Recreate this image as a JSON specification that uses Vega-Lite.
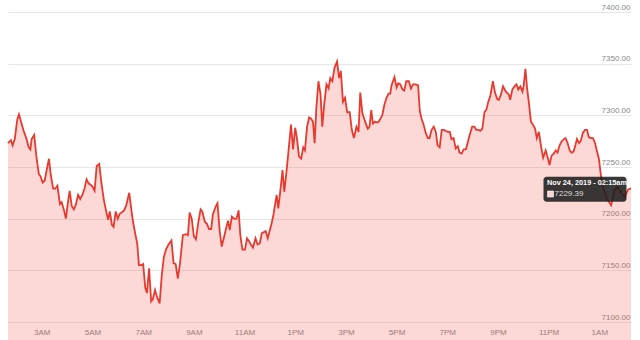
{
  "$schema": "https://vega.github.io/schema/vega-lite/v6.json",
  "width": 623,
  "height": 310,
  "autosize": {"type": "none"},
  "padding": {"left": 8, "top": 12, "right": 9, "bottom": 18},
  "background": "white",
  "config": {"view": {"stroke": null}, "font": "Liberation Sans Narrow, Liberation Sans, Arial, sans-serif"},
  "datasets": {
    "btc": [
      {"t":"2019-11-23T01:40","v":7273},{"t":"2019-11-23T01:47","v":7276},{"t":"2019-11-23T01:51","v":7271},{"t":"2019-11-23T01:56","v":7277},
      {"t":"2019-11-23T02:02","v":7296},{"t":"2019-11-23T02:06","v":7301},{"t":"2019-11-23T02:12","v":7292},{"t":"2019-11-23T02:17","v":7285},
      {"t":"2019-11-23T02:24","v":7277},{"t":"2019-11-23T02:29","v":7269},{"t":"2019-11-23T02:33","v":7267},{"t":"2019-11-23T02:36","v":7277},
      {"t":"2019-11-23T02:42","v":7281},{"t":"2019-11-23T02:47","v":7261},{"t":"2019-11-23T02:53","v":7243},{"t":"2019-11-23T02:57","v":7241},
      {"t":"2019-11-23T03:02","v":7235},{"t":"2019-11-23T03:07","v":7237},{"t":"2019-11-23T03:11","v":7246},{"t":"2019-11-23T03:17","v":7258},
      {"t":"2019-11-23T03:21","v":7243},{"t":"2019-11-23T03:27","v":7229},{"t":"2019-11-23T03:32","v":7229},{"t":"2019-11-23T03:37","v":7232},
      {"t":"2019-11-23T03:43","v":7214},{"t":"2019-11-23T03:47","v":7216},{"t":"2019-11-23T03:52","v":7209},{"t":"2019-11-23T03:57","v":7200},
      {"t":"2019-11-23T04:02","v":7216},{"t":"2019-11-23T04:06","v":7227},{"t":"2019-11-23T04:11","v":7212},{"t":"2019-11-23T04:16","v":7209},
      {"t":"2019-11-23T04:21","v":7214},{"t":"2019-11-23T04:26","v":7223},{"t":"2019-11-23T04:31","v":7219},{"t":"2019-11-23T04:36","v":7223},
      {"t":"2019-11-23T04:41","v":7229},{"t":"2019-11-23T04:46","v":7238},{"t":"2019-11-23T04:51","v":7234},{"t":"2019-11-23T04:55","v":7233},
      {"t":"2019-11-23T05:00","v":7231},{"t":"2019-11-23T05:05","v":7227},{"t":"2019-11-23T05:10","v":7251},{"t":"2019-11-23T05:16","v":7253},
      {"t":"2019-11-23T05:21","v":7235},{"t":"2019-11-23T05:27","v":7218},{"t":"2019-11-23T05:32","v":7208},{"t":"2019-11-23T05:37","v":7199},
      {"t":"2019-11-23T05:41","v":7207},{"t":"2019-11-23T05:46","v":7194},{"t":"2019-11-23T05:50","v":7192},{"t":"2019-11-23T05:55","v":7207},
      {"t":"2019-11-23T06:00","v":7200},{"t":"2019-11-23T06:05","v":7205},{"t":"2019-11-23T06:09","v":7206},{"t":"2019-11-23T06:15","v":7208},
      {"t":"2019-11-23T06:20","v":7213},{"t":"2019-11-23T06:27","v":7225},{"t":"2019-11-23T06:31","v":7212},{"t":"2019-11-23T06:36","v":7197},
      {"t":"2019-11-23T06:41","v":7186},{"t":"2019-11-23T06:46","v":7176},{"t":"2019-11-23T06:50","v":7155},{"t":"2019-11-23T06:55","v":7155},
      {"t":"2019-11-23T07:00","v":7156},{"t":"2019-11-23T07:05","v":7133},{"t":"2019-11-23T07:09","v":7128},{"t":"2019-11-23T07:14","v":7152},
      {"t":"2019-11-23T07:19","v":7120},{"t":"2019-11-23T07:23","v":7122},{"t":"2019-11-23T07:28","v":7131},{"t":"2019-11-23T07:33","v":7124},
      {"t":"2019-11-23T07:39","v":7118},{"t":"2019-11-23T07:44","v":7145},{"t":"2019-11-23T07:49","v":7163},{"t":"2019-11-23T07:54","v":7170},
      {"t":"2019-11-23T08:00","v":7175},{"t":"2019-11-23T08:07","v":7179},{"t":"2019-11-23T08:12","v":7157},{"t":"2019-11-23T08:17","v":7156},
      {"t":"2019-11-23T08:22","v":7142},{"t":"2019-11-23T08:27","v":7156},{"t":"2019-11-23T08:34","v":7184},{"t":"2019-11-23T08:41","v":7185},
      {"t":"2019-11-23T08:46","v":7184},{"t":"2019-11-23T08:50","v":7206},{"t":"2019-11-23T08:55","v":7200},{"t":"2019-11-23T09:00","v":7183},
      {"t":"2019-11-23T09:05","v":7180},{"t":"2019-11-23T09:10","v":7195},{"t":"2019-11-23T09:16","v":7209},{"t":"2019-11-23T09:20","v":7207},
      {"t":"2019-11-23T09:26","v":7197},{"t":"2019-11-23T09:31","v":7195},{"t":"2019-11-23T09:36","v":7190},{"t":"2019-11-23T09:41","v":7190},
      {"t":"2019-11-23T09:45","v":7204},{"t":"2019-11-23T09:52","v":7212},{"t":"2019-11-23T09:56","v":7215},{"t":"2019-11-23T10:01","v":7189},
      {"t":"2019-11-23T10:06","v":7173},{"t":"2019-11-23T10:12","v":7183},{"t":"2019-11-23T10:17","v":7192},{"t":"2019-11-23T10:21","v":7198},
      {"t":"2019-11-23T10:25","v":7189},{"t":"2019-11-23T10:30","v":7202},{"t":"2019-11-23T10:35","v":7200},{"t":"2019-11-23T10:41","v":7200},
      {"t":"2019-11-23T10:46","v":7208},{"t":"2019-11-23T10:50","v":7184},{"t":"2019-11-23T10:55","v":7170},{"t":"2019-11-23T11:01","v":7170},
      {"t":"2019-11-23T11:06","v":7181},{"t":"2019-11-23T11:11","v":7178},{"t":"2019-11-23T11:15","v":7175},{"t":"2019-11-23T11:20","v":7172},
      {"t":"2019-11-23T11:26","v":7181},{"t":"2019-11-23T11:31","v":7175},{"t":"2019-11-23T11:36","v":7176},{"t":"2019-11-23T11:41","v":7186},
      {"t":"2019-11-23T11:46","v":7187},{"t":"2019-11-23T11:50","v":7188},{"t":"2019-11-23T11:55","v":7181},{"t":"2019-11-23T12:00","v":7189},
      {"t":"2019-11-23T12:04","v":7195},{"t":"2019-11-23T12:09","v":7205},{"t":"2019-11-23T12:16","v":7223},{"t":"2019-11-23T12:20","v":7210},
      {"t":"2019-11-23T12:25","v":7228},{"t":"2019-11-23T12:30","v":7247},{"t":"2019-11-23T12:34","v":7226},{"t":"2019-11-23T12:39","v":7244},
      {"t":"2019-11-23T12:44","v":7265},{"t":"2019-11-23T12:50","v":7291},{"t":"2019-11-23T12:55","v":7267},{"t":"2019-11-23T13:00","v":7288},
      {"t":"2019-11-23T13:04","v":7278},{"t":"2019-11-23T13:09","v":7260},{"t":"2019-11-23T13:14","v":7258},{"t":"2019-11-23T13:19","v":7269},
      {"t":"2019-11-23T13:23","v":7266},{"t":"2019-11-23T13:28","v":7289},{"t":"2019-11-23T13:33","v":7298},{"t":"2019-11-23T13:37","v":7297},
      {"t":"2019-11-23T13:42","v":7294},{"t":"2019-11-23T13:46","v":7273},{"t":"2019-11-23T13:50","v":7307},{"t":"2019-11-23T13:55","v":7333},
      {"t":"2019-11-23T14:00","v":7320},{"t":"2019-11-23T14:04","v":7289},{"t":"2019-11-23T14:09","v":7312},{"t":"2019-11-23T14:14","v":7330},
      {"t":"2019-11-23T14:19","v":7326},{"t":"2019-11-23T14:23","v":7336},{"t":"2019-11-23T14:28","v":7333},{"t":"2019-11-23T14:33","v":7346},
      {"t":"2019-11-23T14:39","v":7352},{"t":"2019-11-23T14:44","v":7336},{"t":"2019-11-23T14:48","v":7343},{"t":"2019-11-23T14:53","v":7313},
      {"t":"2019-11-23T14:58","v":7317},{"t":"2019-11-23T15:03","v":7303},{"t":"2019-11-23T15:09","v":7303},{"t":"2019-11-23T15:14","v":7286},
      {"t":"2019-11-23T15:19","v":7278},{"t":"2019-11-23T15:25","v":7289},{"t":"2019-11-23T15:30","v":7284},{"t":"2019-11-23T15:34","v":7322},
      {"t":"2019-11-23T15:39","v":7302},{"t":"2019-11-23T15:44","v":7296},{"t":"2019-11-23T15:48","v":7291},{"t":"2019-11-23T15:52","v":7287},
      {"t":"2019-11-23T15:56","v":7289},{"t":"2019-11-23T16:00","v":7305},{"t":"2019-11-23T16:04","v":7292},{"t":"2019-11-23T16:09","v":7294},
      {"t":"2019-11-23T16:14","v":7293},{"t":"2019-11-23T16:18","v":7294},{"t":"2019-11-23T16:22","v":7297},{"t":"2019-11-23T16:26","v":7300},
      {"t":"2019-11-23T16:31","v":7310},{"t":"2019-11-23T16:36","v":7317},{"t":"2019-11-23T16:41","v":7321},{"t":"2019-11-23T16:45","v":7321},
      {"t":"2019-11-23T16:48","v":7329},{"t":"2019-11-23T16:55","v":7337},{"t":"2019-11-23T17:00","v":7327},{"t":"2019-11-23T17:04","v":7331},
      {"t":"2019-11-23T17:09","v":7330},{"t":"2019-11-23T17:14","v":7325},{"t":"2019-11-23T17:18","v":7324},{"t":"2019-11-23T17:23","v":7333},
      {"t":"2019-11-23T17:29","v":7333},{"t":"2019-11-23T17:34","v":7326},{"t":"2019-11-23T17:39","v":7330},{"t":"2019-11-23T17:45","v":7330},
      {"t":"2019-11-23T17:51","v":7329},{"t":"2019-11-23T17:55","v":7304},{"t":"2019-11-23T17:59","v":7297},{"t":"2019-11-23T18:04","v":7291},
      {"t":"2019-11-23T18:09","v":7283},{"t":"2019-11-23T18:14","v":7278},{"t":"2019-11-23T18:18","v":7278},{"t":"2019-11-23T18:23","v":7286},
      {"t":"2019-11-23T18:28","v":7289},{"t":"2019-11-23T18:33","v":7284},{"t":"2019-11-23T18:37","v":7271},{"t":"2019-11-23T18:42","v":7269},
      {"t":"2019-11-23T18:47","v":7286},{"t":"2019-11-23T18:52","v":7286},{"t":"2019-11-23T18:56","v":7285},{"t":"2019-11-23T19:01","v":7284},
      {"t":"2019-11-23T19:06","v":7284},{"t":"2019-11-23T19:10","v":7277},{"t":"2019-11-23T19:15","v":7278},{"t":"2019-11-23T19:20","v":7268},
      {"t":"2019-11-23T19:25","v":7270},{"t":"2019-11-23T19:29","v":7264},{"t":"2019-11-23T19:34","v":7263},{"t":"2019-11-23T19:39","v":7267},
      {"t":"2019-11-23T19:44","v":7267},{"t":"2019-11-23T19:48","v":7273},{"t":"2019-11-23T19:53","v":7281},{"t":"2019-11-23T19:59","v":7289},
      {"t":"2019-11-23T20:04","v":7289},{"t":"2019-11-23T20:09","v":7286},{"t":"2019-11-23T20:14","v":7286},{"t":"2019-11-23T20:18","v":7285},
      {"t":"2019-11-23T20:23","v":7287},{"t":"2019-11-23T20:28","v":7303},{"t":"2019-11-23T20:33","v":7306},{"t":"2019-11-23T20:37","v":7313},
      {"t":"2019-11-23T20:42","v":7319},{"t":"2019-11-23T20:48","v":7333},{"t":"2019-11-23T20:53","v":7322},{"t":"2019-11-23T20:58","v":7316},
      {"t":"2019-11-23T21:02","v":7315},{"t":"2019-11-23T21:07","v":7320},{"t":"2019-11-23T21:12","v":7328},{"t":"2019-11-23T21:17","v":7324},
      {"t":"2019-11-23T21:21","v":7322},{"t":"2019-11-23T21:26","v":7320},{"t":"2019-11-23T21:29","v":7315},{"t":"2019-11-23T21:34","v":7325},
      {"t":"2019-11-23T21:39","v":7328},{"t":"2019-11-23T21:44","v":7330},{"t":"2019-11-23T21:48","v":7325},{"t":"2019-11-23T21:53","v":7328},
      {"t":"2019-11-23T21:58","v":7323},{"t":"2019-11-23T22:01","v":7329},{"t":"2019-11-23T22:05","v":7345},{"t":"2019-11-23T22:09","v":7326},
      {"t":"2019-11-23T22:13","v":7313},{"t":"2019-11-23T22:18","v":7294},{"t":"2019-11-23T22:23","v":7291},{"t":"2019-11-23T22:28","v":7287},
      {"t":"2019-11-23T22:32","v":7278},{"t":"2019-11-23T22:37","v":7284},{"t":"2019-11-23T22:42","v":7270},{"t":"2019-11-23T22:47","v":7259},
      {"t":"2019-11-23T22:53","v":7266},{"t":"2019-11-23T22:58","v":7259},{"t":"2019-11-23T23:02","v":7252},{"t":"2019-11-23T23:07","v":7261},
      {"t":"2019-11-23T23:12","v":7263},{"t":"2019-11-23T23:17","v":7266},{"t":"2019-11-23T23:21","v":7264},{"t":"2019-11-23T23:26","v":7271},
      {"t":"2019-11-23T23:31","v":7275},{"t":"2019-11-23T23:36","v":7277},{"t":"2019-11-23T23:40","v":7278},{"t":"2019-11-23T23:45","v":7273},
      {"t":"2019-11-23T23:50","v":7266},{"t":"2019-11-23T23:54","v":7264},{"t":"2019-11-23T23:59","v":7265},{"t":"2019-11-24T00:04","v":7272},
      {"t":"2019-11-24T00:07","v":7277},{"t":"2019-11-24T00:12","v":7273},{"t":"2019-11-24T00:16","v":7275},{"t":"2019-11-24T00:21","v":7283},
      {"t":"2019-11-24T00:26","v":7286},{"t":"2019-11-24T00:31","v":7286},{"t":"2019-11-24T00:35","v":7279},{"t":"2019-11-24T00:40","v":7278},
      {"t":"2019-11-24T00:45","v":7278},{"t":"2019-11-24T00:50","v":7273},{"t":"2019-11-24T00:54","v":7266},{"t":"2019-11-24T00:59","v":7258},
      {"t":"2019-11-24T01:04","v":7241},{"t":"2019-11-24T01:09","v":7231},{"t":"2019-11-24T01:14","v":7224},{"t":"2019-11-24T01:20","v":7218},
      {"t":"2019-11-24T01:28","v":7213},{"t":"2019-11-24T01:36","v":7228},{"t":"2019-11-24T01:43","v":7231},{"t":"2019-11-24T01:52","v":7225},
      {"t":"2019-11-24T02:00","v":7221},{"t":"2019-11-24T02:08","v":7228},{"t":"2019-11-24T02:15","v":7229.39}
    ],
    "hover": [
      {"t":"2019-11-24T02:15","v":7229.39,"title":"Nov 24, 2019 - 02:15am","value":"7229.39"}
    ]
  },
  "layer": [
    {
      "data": {"name": "btc"},
      "mark": {"type": "area", "color": "#f0504a", "opacity": 0.22},
      "encoding": {
        "x": {
          "field": "t", "type": "temporal",
          "scale": {"domain": [{"year":2019,"month":11,"date":23,"hours":1,"minutes":40},{"year":2019,"month":11,"date":24,"hours":2,"minutes":15}]},
          "axis": {
            "title": null, "domain": false, "ticks": false, "grid": false,
            "format": "%-I%p", "labelColor": "#888", "labelFontSize": 8, "labelPadding": 6,
            "labelFlush": false, "labelOverlap": false,
            "values": [
              {"year":2019,"month":11,"date":23,"hours":3},{"year":2019,"month":11,"date":23,"hours":5},
              {"year":2019,"month":11,"date":23,"hours":7},{"year":2019,"month":11,"date":23,"hours":9},
              {"year":2019,"month":11,"date":23,"hours":11},{"year":2019,"month":11,"date":23,"hours":13},
              {"year":2019,"month":11,"date":23,"hours":15},{"year":2019,"month":11,"date":23,"hours":17},
              {"year":2019,"month":11,"date":23,"hours":19},{"year":2019,"month":11,"date":23,"hours":21},
              {"year":2019,"month":11,"date":23,"hours":23},{"year":2019,"month":11,"date":24,"hours":1}
            ]
          }
        },
        "y": {
          "field": "v", "type": "quantitative",
          "scale": {"domain": [7100, 7400], "zero": false, "nice": false},
          "axis": {
            "title": null, "orient": "right", "domain": false, "ticks": false, "tickSize": 0,
            "grid": true, "gridColor": "#e6e6e6", "gridWidth": 1,
            "values": [7100, 7150, 7200, 7250, 7300, 7350, 7400],
            "format": ".2f", "labelColor": "#888", "labelFontSize": 8,
            "labelAlign": "right", "labelBaseline": "bottom", "labelPadding": -1, "labelOffset": -1,
            "labelFlush": false, "labelOverlap": false, "labelBound": false
          }
        }
      }
    },
    {
      "data": {"name": "btc"},
      "mark": {"type": "line", "color": "#e8392f", "strokeWidth": 1.8},
      "encoding": {
        "x": {"field": "t", "type": "temporal"},
        "y": {"field": "v", "type": "quantitative"}
      }
    },
    {
      "data": {"name": "hover"},
      "mark": {"type": "rect", "width": 83, "height": 25, "xOffset": -46, "yOffset": 1, "cornerRadius": 3, "color": "#1e1e1e", "opacity": 0.88},
      "encoding": {
        "x": {"field": "t", "type": "temporal"},
        "y": {"field": "v", "type": "quantitative"}
      }
    },
    {
      "data": {"name": "hover"},
      "mark": {"type": "text", "align": "left", "baseline": "middle", "dx": -84, "dy": -5, "fontSize": 7.3, "fontWeight": "bold", "color": "#ffffff"},
      "encoding": {
        "x": {"field": "t", "type": "temporal"},
        "y": {"field": "v", "type": "quantitative"},
        "text": {"field": "title"}
      }
    },
    {
      "data": {"name": "hover"},
      "mark": {"type": "point", "shape": "square", "size": 36, "filled": true, "color": "#fbd3d1", "stroke": "#ffffff", "strokeWidth": 0.6, "opacity": 1, "xOffset": -80.5, "yOffset": 5.7},
      "encoding": {
        "x": {"field": "t", "type": "temporal"},
        "y": {"field": "v", "type": "quantitative"}
      }
    },
    {
      "data": {"name": "hover"},
      "mark": {"type": "text", "align": "left", "baseline": "middle", "dx": -76.5, "dy": 6, "fontSize": 8, "color": "#dddddd"},
      "encoding": {
        "x": {"field": "t", "type": "temporal"},
        "y": {"field": "v", "type": "quantitative"},
        "text": {"field": "value"}
      }
    }
  ]
}
